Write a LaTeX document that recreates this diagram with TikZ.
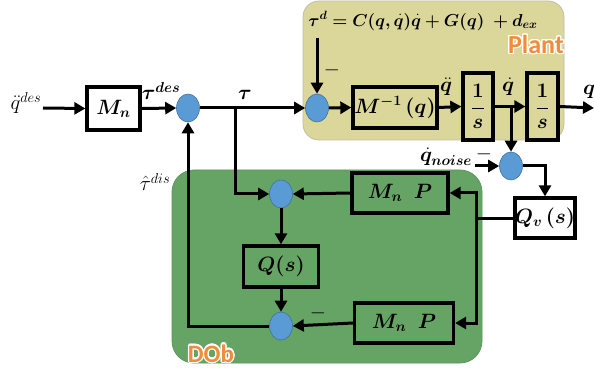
\documentclass[tikz,border=0pt]{standalone}
\usepackage{bm}
\usepackage{fontspec}
\usepackage{contour}
\contourlength{1.3pt}
\newfontfamily\labfont{Carlito}
\DeclareMathSizes{20}{20}{15}{12}
\DeclareMathSizes{17}{17}{13}{10}
\usetikzlibrary{arrows.meta,shapes.geometric,calc}
\definecolor{plantfill}{RGB}{219,215,155}
\definecolor{plantline}{RGB}{190,190,170}
\definecolor{dobfill}{RGB}{102,164,102}
\definecolor{dobline}{RGB}{90,150,90}
\definecolor{sumfill}{RGB}{91,155,213}
\definecolor{sumline}{RGB}{65,113,156}
\definecolor{labor}{RGB}{240,140,60}
\begin{document}
\begin{tikzpicture}[x=1pt,y=-1pt,
  every node/.style={font=\fontsize{20}{22}\selectfont},
  blk/.style={draw=black,line width=3.3pt,inner sep=0pt},
  sumnode/.style={ellipse,fill=sumfill,draw=sumline,line width=0.6pt,minimum width=23pt,minimum height=28pt,inner sep=0pt},
  conn/.style={line width=3pt,-{Triangle[length=11pt,width=12pt]}},
  wire/.style={line width=3pt},
  lab/.style={inner sep=0pt},
  grouplab/.style={text=labor,font=\labfont\bfseries\fontsize{26}{28}\selectfont,inner sep=0pt}
]
\useasboundingbox (0,0) rectangle (594,374);
% background groups
\draw[fill=plantfill,draw=plantline,line width=0.8pt,rounded corners=16pt] (303,1) rectangle (564,140);
\draw[fill=dobfill,draw=dobline,line width=0.8pt,rounded corners=22pt] (172,170) rectangle (482,363);
\node[grouplab] (plantlab) at (536,45) {\contour{white}{Plant}};
\node[grouplab,font=\labfont\bfseries\fontsize{25}{28}\selectfont] (doblab) at (211,354) {\contour{white}{DOb}};

% blocks
\node[blk,fill=white,minimum width=53pt,minimum height=43pt] (Mn) at (113.5,108.5) {$\bm{M_n}$};
\node[sumnode] (s1) at (188,108) {};
\node[sumnode] (s2) at (317,108) {};
\node[blk,minimum width=84pt,minimum height=41pt] (Minv) at (395,107.5) {$\bm{M^{-1}\,(q)}$};
\node[blk,minimum width=30pt,minimum height=67pt] (I1) at (478,106.5) {$\bm{\displaystyle\frac{1}{s}}$};
\node[blk,minimum width=31pt,minimum height=67pt] (I2) at (542.5,106.5) {$\bm{\displaystyle\frac{1}{s}}$};
\node[sumnode] (s5) at (511,166) {};
\node[blk,fill=white,minimum width=60pt,minimum height=40pt] (Qv) at (545,218) {$\bm{Q_v\,(s)}$};
\node[blk,minimum width=96pt,minimum height=40pt] (MnP1) at (400,193) {$\bm{M_n\;\;P}$};
\node[sumnode] (s3) at (281,194) {};
\node[blk,minimum width=75pt,minimum height=41pt] (Q) at (281,266.5) {$\bm{Q(s)}$};
\node[sumnode] (s4) at (281,326) {};
\node[blk,minimum width=99pt,minimum height=40pt] (MnP2) at (404,323) {$\bm{M_n\;\;P}$};

% labels
\node[lab] (qdes) at (26,103) {$\ddot{q}^{des}$};
\node[lab] (taudes) at (161,91) {$\bm{\tau^{des}}$};
\node[lab] (tau) at (245,95) {$\bm{\tau}$};
\node[lab,font=\fontsize{17}{20}\selectfont] (taud) at (423,21) {$\bm{\tau^{d}=C(q,\dot{q})\dot{q}+G(q)\;+d_{ex}}$};
\node[lab] (minus1) at (332,70) {$-$};
\node[lab] (qdd) at (446,87) {$\bm{\ddot{q}}$};
\node[lab] (qd) at (508,87) {$\bm{\dot{q}}$};
\node[lab,anchor=west] (qout) at (583,92) {$\bm{q}$};
\node[lab] (qnoise) at (446,157) {$\bm{\dot{q}_{noise}}$};
\node[lab] (minus2) at (484,154) {$-$};
\node[lab] (minus3) at (318,313) {$-$};
\node[lab] (taudis) at (155,182) {$\hat{\tau}^{dis}$};

\coordinate (qin) at (43,108);
\coordinate (taub) at (235,108);
\coordinate (taudtop) at (317,38);
\coordinate (qdb) at (511,108);
\coordinate (qend) at (594,108);
\coordinate (nin) at (475,166);
\coordinate (vx) at (476,218);
\coordinate (fbx) at (188,326);

% connectors
\draw[conn] (qin) -- (Mn.west);
\draw[conn] (Mn.east) -- (s1.west);
\draw[conn] (s1.east) -- (s2.west);
\draw[conn] (taub) |- (s3.west);
\draw[conn] (taudtop) -- (s2.north);
\draw[conn] (s2.east) -- (Minv.west);
\draw[conn] (Minv.east) -- (I1.west);
\draw[conn] (I1.east) -- (I2.west);
\draw[conn] (qdb) -- (s5.north);
\draw[conn] (I2.east) -- (qend);
\draw[conn] (nin) -- (s5.west);
\draw[conn] (s5.east) -| (Qv.north);
\draw[wire] (Qv.west) -- (vx);
\draw[conn] (vx) |- (MnP1.east);
\draw[conn] (vx) |- (MnP2.east);
\draw[conn] (MnP1.west) -- (s3.east);
\draw[conn] (s3.south) -- (Q.north);
\draw[conn] (Q.south) -- (s4.north);
\draw[conn] (MnP2.west) -- (s4.east);
\draw[conn] (s4.west) -- (fbx) -- (s1.south);
\end{tikzpicture}
\end{document}
